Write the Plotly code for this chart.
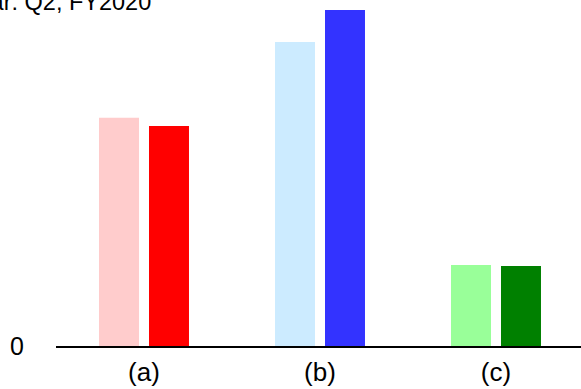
import plotly.graph_objects as go

# Category labels and the two series shown per category
categories = ["(a)", "(b)", "(c)"]
series_light = [6.79, 9.05, 2.41]
series_dark = [6.55, 10.0, 2.38]
light_colors = ["#FFCCCC", "#CCEBFF", "#99FF99"]
dark_colors = ["#FF0000", "#3333FF", "#008000"]
title_text = "Year: Q2, FY2020"

W, H = 581, 389
ML, MB, MT = 56, 43, 0
plot_w = W - ML
plot_h = H - MB - MT

fig = go.Figure()
fig.add_trace(go.Bar(x=categories, y=series_light, marker=dict(color=light_colors, line=dict(width=0))))
fig.add_trace(go.Bar(x=categories, y=series_dark, marker=dict(color=dark_colors, line=dict(width=0))))

# one category step spans 176 px; the plot runs slightly past the right edge
step_px = 176.0
x_hi = -0.5 + plot_w / step_px
y_hi = 10.0 * plot_h / 336.0

font = "Liberation Sans, Arial, sans-serif"

fig.update_layout(
    width=W, height=H,
    margin=dict(l=ML, r=0, t=MT, b=MB, pad=0),
    paper_bgcolor="white", plot_bgcolor="white",
    barmode="group", bargap=0.432, bargroupgap=0.2,
    showlegend=False,
    font=dict(family=font, size=26, color="black"),
    xaxis=dict(range=[-0.5, x_hi], showgrid=False, zeroline=False,
               showline=True, linecolor="black", linewidth=1.5,
               ticks="", tickfont=dict(size=26), ticklabelstandoff=2),
    yaxis=dict(range=[0, y_hi], showgrid=False, zeroline=False, showline=False,
               tickvals=[0], ticktext=["0"], ticks="", tickfont=dict(size=25),
               ticklabelstandoff=31),
    annotations=[dict(text=title_text, xref="paper", yref="paper",
                      x=(153 - ML) / plot_w, y=1 - 2 / plot_h,
                      xanchor="right", yanchor="middle", showarrow=False,
                      font=dict(family=font, size=23.5, color="black"))],
)

fig.write_html("out.html")
